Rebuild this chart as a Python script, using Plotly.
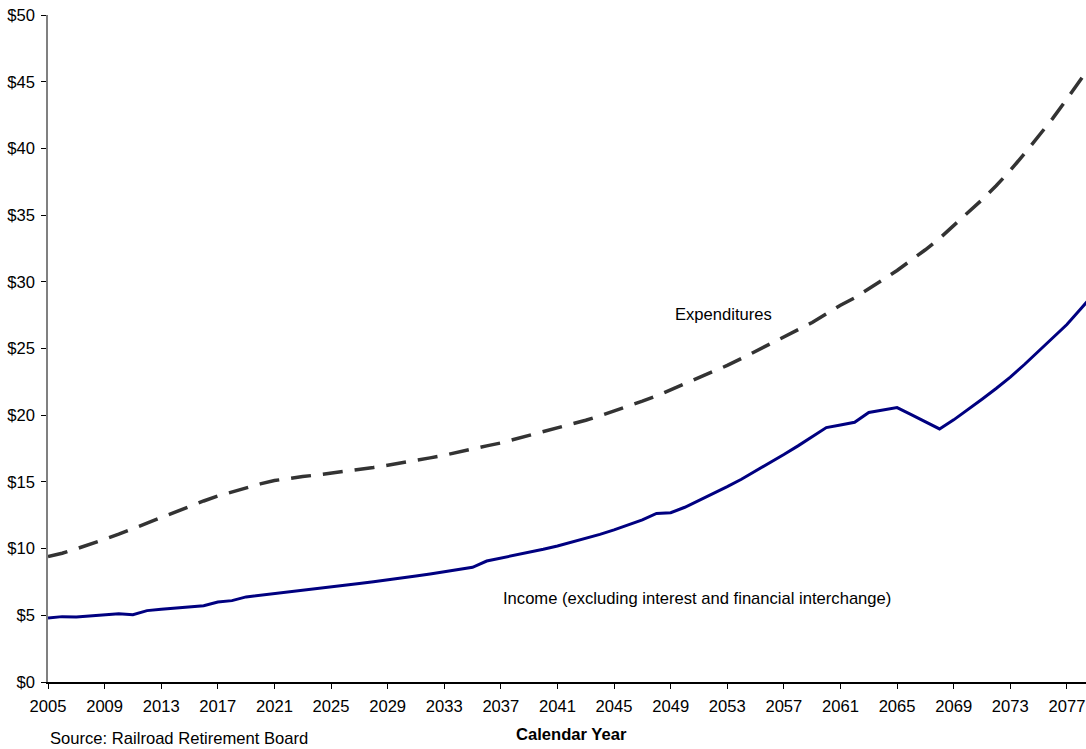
import plotly.graph_objects as go

years = list(range(2005, 2080))

expenditures = [
    9.40, 9.65, 9.98, 10.32, 10.70, 11.08, 11.50, 11.95, 12.38, 12.80,
    13.22, 13.57, 13.94, 14.25, 14.55, 14.85, 15.10, 15.27, 15.40, 15.52,
    15.65, 15.82, 15.95, 16.08, 16.25, 16.42, 16.62, 16.80, 17.00, 17.25,
    17.50, 17.70, 17.92, 18.20, 18.47, 18.75, 19.02, 19.32, 19.62, 19.95,
    20.30, 20.65, 21.05, 21.45, 21.90, 22.35, 22.77, 23.25, 23.73, 24.25,
    24.78, 25.30, 25.85, 26.35, 26.95, 27.60, 28.25, 28.80, 29.45, 30.15,
    30.85, 31.60, 32.40, 33.25, 34.20, 35.15, 36.15, 37.20, 38.35, 39.60,
    40.90, 42.25, 43.70, 45.20, 46.70,
]

income = [
    4.80, 4.90, 4.87, 4.95, 5.02, 5.12, 5.05, 5.35, 5.45, 5.55,
    5.62, 5.72, 6.00, 6.10, 6.38, 6.50, 6.62, 6.75, 6.88, 7.00,
    7.12, 7.25, 7.38, 7.52, 7.65, 7.80, 7.95, 8.10, 8.25, 8.40,
    8.60, 9.07, 9.28, 9.50, 9.72, 9.95, 10.20, 10.48, 10.77, 11.07,
    11.40, 11.75, 12.15, 12.64, 12.69, 13.10, 13.60, 14.10, 14.65, 15.20,
    15.80, 16.40, 17.05, 17.70, 18.40, 19.07, 19.27, 19.47, 20.20, 20.40,
    20.57, 20.05, 19.50, 18.97, 19.65, 20.40, 21.20, 22.00, 22.85, 23.80,
    24.80, 25.80, 26.80, 28.00, 29.20,
]

x_ticks = list(range(2005, 2079, 4))
y_ticks = list(range(0, 51, 5))

FONT = "Arial, 'Liberation Sans', sans-serif"
FS = 16.6

W, H = 1086, 749
L, R, T, B = 48, 0, 15, 67
pw, ph = W - L - R, H - T - B


def px_x(px):
    return (px - L) / pw


def px_y(py):
    return (H - B - py) / ph


def label(text, x, y, xanchor="center"):
    return dict(text=text, x=px_x(x), y=px_y(y), xref="paper", yref="paper",
                showarrow=False, xanchor=xanchor, yanchor="middle",
                font=dict(size=FS))


fig = go.Figure()
fig.add_trace(go.Scatter(
    x=years, y=expenditures, mode="lines",
    line=dict(color="#333333", width=3.5, dash="20px,12px"),
    name="Expenditures", showlegend=False,
))
fig.add_trace(go.Scatter(
    x=years, y=income, mode="lines",
    line=dict(color="#000080", width=3),
    name="Income", showlegend=False,
))

fig.update_layout(
    width=W, height=H,
    margin=dict(l=L, r=R, t=T, b=B, autoexpand=False),
    paper_bgcolor="white", plot_bgcolor="white",
    font=dict(family=FONT, size=FS, color="black"),
    xaxis=dict(
        range=[2005, 2078.35], tickmode="array", tickvals=x_ticks,
        ticktext=[str(v) for v in x_ticks], automargin=False,
        showgrid=False, zeroline=False, showline=True, linecolor="black",
        linewidth=1.5, ticks="outside", ticklen=5, tickcolor="black",
        tickfont=dict(size=FS), ticklabelstandoff=3,
    ),
    yaxis=dict(
        range=[0, 50], tickmode="array", tickvals=y_ticks,
        ticktext=["$" + str(v) for v in y_ticks], automargin=False,
        showgrid=False, zeroline=False, showline=True, linecolor="#808080",
        linewidth=1.5, ticks="outside", ticklen=5, tickcolor="black",
        tickfont=dict(size=FS), ticklabelstandoff=3,
    ),
    annotations=[
        label("Expenditures", 723, 314),
        label("Income (excluding interest and financial interchange)", 697, 598),
        label("<b>Calendar Year</b>", 571, 734),
        label("Source: Railroad Retirement Board", 48, 738, xanchor="left"),
    ],
)

fig.write_html(
    "out.html",
    config={"displayModeBar": False},
    post_script="document.body.style.margin='0';document.body.style.overflow='hidden';",
)
